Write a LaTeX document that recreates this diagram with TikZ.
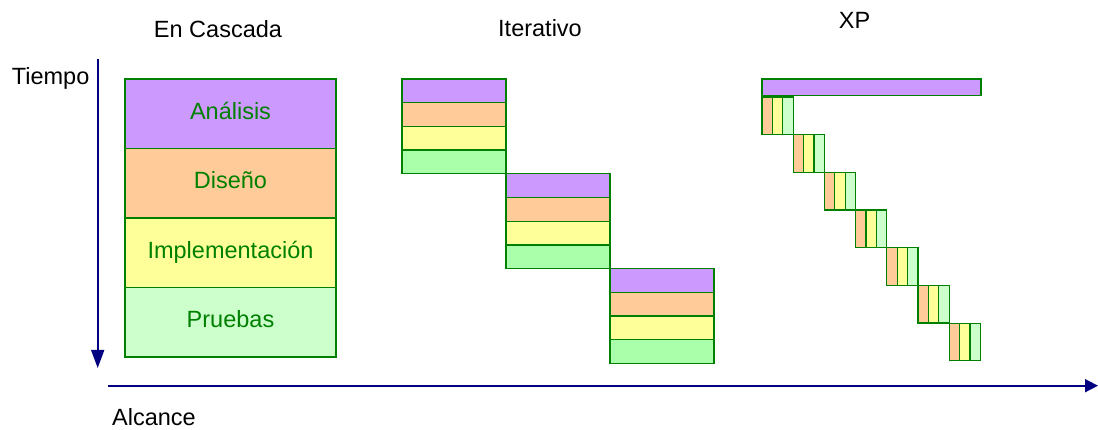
\documentclass[tikz,border=0pt]{standalone}
\usepackage{fontspec}
\setmainfont{Liberation Sans}
\usetikzlibrary{arrows.meta}

\definecolor{phaseA}{HTML}{CC99FF}
\definecolor{phaseD}{HTML}{FFCC99}
\definecolor{phaseI}{HTML}{FFFF99}
\definecolor{phaseP}{HTML}{CCFFCC}
\definecolor{phasePit}{HTML}{AAFFAA}
\definecolor{boxedge}{HTML}{008000}
\definecolor{labelgreen}{HTML}{008000}
\definecolor{axisblue}{HTML}{000080}

\begin{document}
\begin{tikzpicture}[x=1pt,y=-1pt,
  font=\fontsize{23.5}{28}\selectfont,
  phase/.style={draw=boxedge, line width=1.3pt, anchor=north west,
    inner sep=0pt, outer sep=0pt},
  caption/.style={inner sep=0pt, anchor=base},
  phaselabel/.style={caption, text=labelgreen},
  axisline/.style={draw=axisblue, line width=1.6pt}]
\useasboundingbox (0,0) rectangle (1098,430);

% column titles and axis names
\node[caption] (tCascada) at (218,37.3) {En Cascada};
\node[caption] (tIter) at (540,36.7) {Iterativo};
\node[caption] (tXP) at (854.5,29) {XP};
\node[caption, anchor=base west] (tTiempo) at (11.7,85) {Tiempo};
\node[caption, anchor=base west] (tAlcance) at (112,425) {Alcance};

% axes
\coordinate (timeTop) at (97.7,59);
\coordinate (timeEnd) at (97.7,368);
\coordinate (scopeStart) at (108,385.7);
\coordinate (scopeEnd) at (1098,385.7);
\draw[axisline, -{Triangle[width=13pt,length=18pt]}] (timeTop) -- (timeEnd);
\draw[axisline, -{Triangle[width=13pt,length=13pt]}] (scopeStart) -- (scopeEnd);

% waterfall: one full-width box per phase
\foreach \n/\c/\t [count=\k from 0] in
  {A/phaseA/Análisis, D/phaseD/Diseño, I/phaseI/Implementación, P/phaseP/Pruebas}{
  \node[phase, fill=\c, minimum width=211pt, minimum height=69.5pt]
    (cas\n) at (125,79+69.5*\k) {};
  \node[phaselabel] (cas\n text) at (230.5,79+69.5*\k+40.5) {\t};
}

% iterative: three smaller cycles, stepping down and right
\foreach \b in {0,1,2}{
  \foreach \n/\c [count=\k from 0] in {A/phaseA, D/phaseD, I/phaseI, P/phasePit}{
    \node[phase, fill=\c, minimum width=104pt, minimum height=23.7pt]
      (it\b\n) at (402+104*\b,79+94.8*\b+23.7*\k) {};
  }
}

% XP: one analysis strip, then many tiny cycles
\node[phase, fill=phaseA, minimum width=219pt, minimum height=16.3pt] (xpA) at (762,79) {};
\foreach \b in {0,...,6}{
  \foreach \n/\c [count=\k from 0] in {D/phaseD, I/phaseI, P/phaseP}{
    \node[phase, fill=\c, minimum width=10.4pt, minimum height=37.5pt]
      (xp\b\n) at (762+31.2*\b+10.4*\k,97+37.7*\b) {};
  }
}
\end{tikzpicture}
\end{document}
